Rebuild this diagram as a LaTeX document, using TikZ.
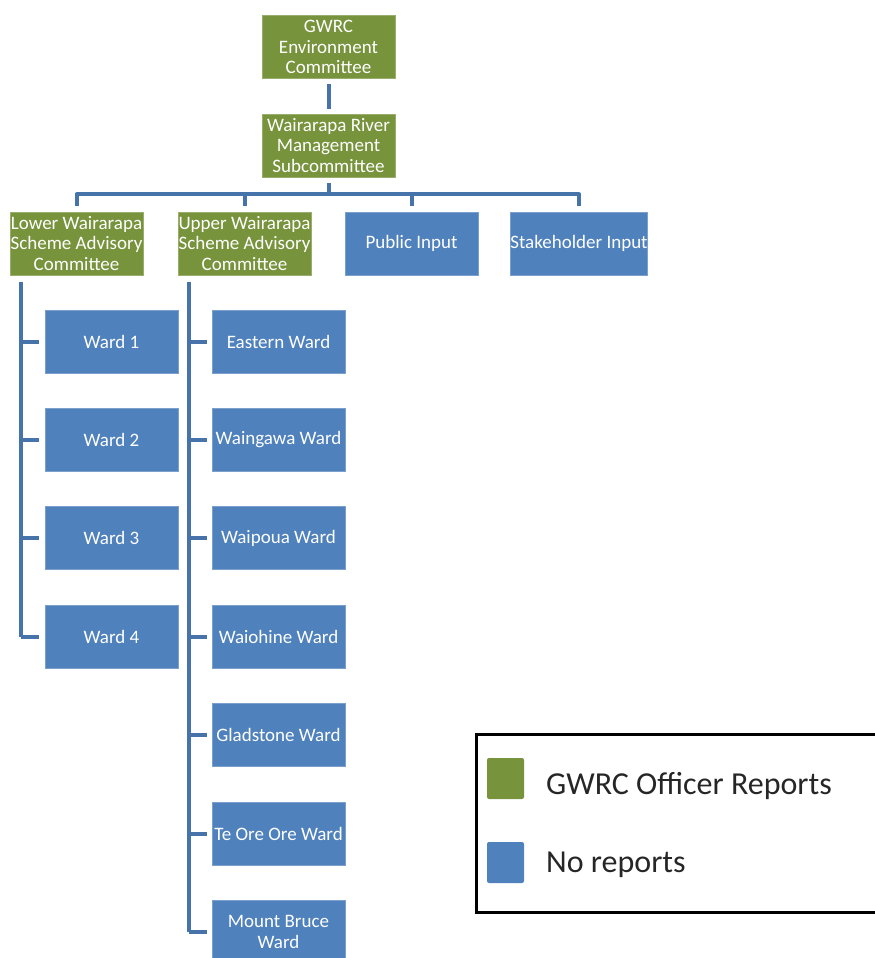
\documentclass[tikz,border=0pt]{standalone}
\usepackage{fontspec}
\setmainfont{Carlito}
\usepackage{xcolor}
\usetikzlibrary{calc, positioning}

\definecolor{reportgreen}{HTML}{77933C}
\definecolor{noreportblue}{HTML}{4F81BD}
\definecolor{linkblue}{HTML}{4674AA}

\tikzset{
    orgbox/.style={minimum width=133pt, minimum height=63pt, inner sep=0pt,
        align=center, text=white, line width=0.8pt,
        font=\fontsize{19}{20.5}\selectfont},
    greenbox/.style={orgbox, fill=reportgreen, draw=reportgreen!75!white},
    bluebox/.style={orgbox, fill=noreportblue, draw=noreportblue!75!white},
    link/.style={draw=linkblue, line width=4pt, line join=round},
    keysquare/.style={minimum width=37pt, minimum height=41pt, inner sep=0pt,
        rounded corners=2pt},
    keytext/.style={anchor=west, inner sep=0pt, text=black!85,
        font=\fontsize{32}{36}\selectfont}
}

\begin{document}
\begin{tikzpicture}[x=1pt, y=1pt]
    \clip (0,0) rectangle (875,-958);
    \useasboundingbox (0,0) rectangle (875,-958);
    % Ủy ban cấp trên
    \node[greenbox] (gwrc) at (328.5,-47) {GWRC\\Environment\\Committee};
    \node[greenbox] (wrms) at (328.5,-145.5) {Wairarapa River\\Management\\Subcommittee};
    % Hàng thứ hai
    \node[greenbox] (lower) at (76.5,-243.5) {Lower Wairarapa\\Scheme Advisory\\Committee};
    \node[greenbox] (upper) at (244.5,-243.5) {Upper Wairarapa\\Scheme Advisory\\Committee};
    \node[bluebox] (public) at (411.5,-243.5) {Public Input};
    \node[bluebox] (stake) at (579,-243.5) {Stakeholder Input};
    % Các phường
    \node[bluebox] (lw1) at (111.5,-341.5) {Ward 1};
    \foreach \i [remember=\i as \j (initially 1)] in {2,...,4}
        \node[bluebox, below=34.6pt of lw\j] (lw\i) {Ward \i};
    \node[bluebox] (uw1) at (278.5,-341.5) {Eastern Ward};
    \foreach \name [count=\i from 2, remember=\i as \j (initially 1)] in
        {Waingawa Ward, Waipoua Ward, Waiohine Ward, Gladstone Ward,
         Te Ore Ore Ward, Mount Bruce\\Ward}
        \node[bluebox, below=34.6pt of uw\j] (uw\i) {\name};
    % Đường nối
    \draw[link, shorten <=5pt, shorten >=5pt] (gwrc) -- (wrms);
    \coordinate (bar) at ($(wrms.south)+(0,-17)$);
    \draw[link] ([yshift=-6pt]wrms.south) -- (bar);
    \draw[link] ([yshift=6pt]lower.north) |- (bar) -| ([yshift=6pt]stake.north);
    \draw[link] ([yshift=6pt]upper.north) -- (upper.north |- bar);
    \draw[link] ([yshift=6pt]public.north) -- (public.north |- bar);
    \coordinate (lspine) at ($(lower.south west)+(11.5,-7)$);
    \draw[link] (lspine) -- (lspine |- lw4.west);
    \foreach \i in {1,...,4}
        \draw[link] (lspine |- lw\i.west) -- ([xshift=-6pt]lw\i.west);
    \coordinate (uspine) at ($(upper.south west)+(11,-7)$);
    \draw[link] (uspine) -- (uspine |- uw7.west);
    \foreach \i in {1,...,7}
        \draw[link] (uspine |- uw\i.west) -- ([xshift=-5pt]uw\i.west);
    % Chú thích
    \node[draw=black, line width=3pt, minimum width=410pt, minimum height=178pt,
        inner sep=0pt, anchor=north west] (legend) at (475,-733) {};
    \node[keysquare, fill=reportgreen] (keygreen) at (505.5,-778.5) {};
    \node[keysquare, fill=noreportblue] (keyblue) at (505.5,-862.5) {};
    \node[keytext] (keygreentext) at (546,-786) {GWRC Officer Reports};
    \node[keytext] (keybluetext) at (546,-865) {No reports};
\end{tikzpicture}
\end{document}
